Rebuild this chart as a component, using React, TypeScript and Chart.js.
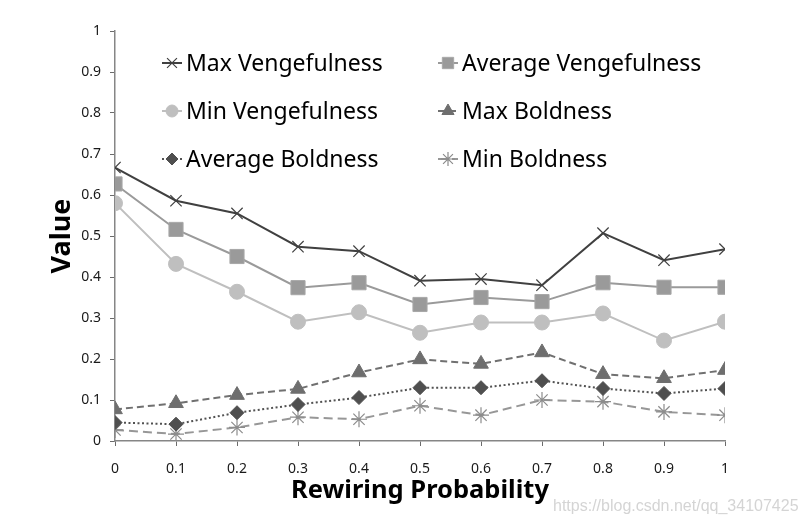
import React, { useEffect, useRef } from "react";
import { Chart, registerables } from "chart.js";
import { drawPoint } from "chart.js/helpers";

Chart.register(...registerables);

const probabilities = [0, 0.1, 0.2, 0.3, 0.4, 0.5, 0.6, 0.7, 0.8, 0.9, 1];
const maxVengefulness = [0.667, 0.586, 0.555, 0.474, 0.463, 0.391, 0.395, 0.38, 0.507, 0.441, 0.468];
const avgVengefulness = [0.627, 0.516, 0.45, 0.374, 0.386, 0.333, 0.35, 0.34, 0.386, 0.375, 0.375];
const minVengefulness = [0.58, 0.432, 0.364, 0.291, 0.314, 0.264, 0.289, 0.289, 0.311, 0.245, 0.291];
const maxBoldness = [0.077, 0.092, 0.112, 0.127, 0.167, 0.199, 0.188, 0.216, 0.163, 0.153, 0.173];
const avgBoldness = [0.045, 0.041, 0.069, 0.089, 0.106, 0.13, 0.13, 0.147, 0.128, 0.116, 0.128];
const minBoldness = [0.027, 0.017, 0.033, 0.058, 0.053, 0.086, 0.063, 0.1, 0.096, 0.071, 0.063];
const seriesLabels = [
  "Max Vengefulness",
  "Average Vengefulness",
  "Min Vengefulness",
  "Max Boldness",
  "Average Boldness",
  "Min Boldness",
];
const xTitle = "Rewiring Probability";
const yTitle = "Value";
const watermark = "https://blog.csdn.net/qq_34107425";

const FONT = "'Noto Sans', 'Open Sans', sans-serif";

const toPoints = (vals: number[]) => vals.map((y, i) => ({ x: probabilities[i], y }));

const fmt = (v: number | string) => {
  const n = Math.round(Number(v) * 10) / 10;
  return String(n);
};

const legendPlugin = {
  id: "gridLegend",
  afterDraw(chart: any) {
    const ctx = chart.ctx as CanvasRenderingContext2D;
    const cols = [172, 448];
    const rows = [63, 111, 159];
    chart.data.datasets.forEach((ds: any, i: number) => {
      const cx = cols[i % 2];
      const cy = rows[Math.floor(i / 2)];
      ctx.save();
      ctx.strokeStyle = ds.borderColor;
      ctx.lineWidth = ds.borderWidth;
      ctx.setLineDash(ds.borderDash || []);
      ctx.beginPath();
      ctx.moveTo(cx - 10, cy);
      ctx.lineTo(cx + 10, cy);
      ctx.stroke();
      ctx.setLineDash([]);
      ctx.fillStyle = ds.pointBackgroundColor;
      ctx.strokeStyle = ds.pointBorderColor;
      ctx.lineWidth = ds.pointBorderWidth;
      drawPoint(ctx, { pointStyle: ds.pointStyle, rotation: 0, radius: ds.legendRadius, borderWidth: ds.pointBorderWidth } as any, cx, cy);
      ctx.fillStyle = "#000";
      ctx.font = `23px ${FONT}`;
      ctx.textBaseline = "middle";
      ctx.textAlign = "left";
      ctx.fillText(ds.label, cx + 14, cy + 1);
      ctx.restore();
    });
  },
};

export default function App() {
  const canvasRef = useRef<HTMLCanvasElement | null>(null);

  useEffect(() => {
    if (!canvasRef.current) return;
    const mk = (
      label: string,
      vals: number[],
      color: string,
      ptColor: string,
      style: string,
      radius: number,
      legendRadius: number,
      dash: number[],
      ptBorder: string,
      ptBorderWidth: number
    ) => ({
      label,
      data: toPoints(vals),
      borderColor: color,
      backgroundColor: ptColor,
      borderWidth: 2,
      borderDash: dash,
      pointStyle: style,
      pointRadius: radius,
      pointHoverRadius: radius,
      pointBackgroundColor: ptColor,
      pointBorderColor: ptBorder,
      pointBorderWidth: ptBorderWidth,
      legendRadius,
      tension: 0,
      fill: false,
    });

    const chart = new Chart(canvasRef.current, {
      type: "line",
      data: {
        datasets: [
          mk(seriesLabels[0], maxVengefulness, "#404040", "#404040", "crossRot", 8, 7, [], "#404040", 1.2),
          mk(seriesLabels[1], avgVengefulness, "#9a9a9a", "#9a9a9a", "rect", 10, 8, [], "#a8a8a8", 1),
          mk(seriesLabels[2], minVengefulness, "#bfbfbf", "#bfbfbf", "circle", 7.5, 6, [], "#bfbfbf", 1),
          mk(seriesLabels[3], maxBoldness, "#707070", "#6e6e6e", "triangle", 8.5, 7, [7, 4], "#6e6e6e", 1),
          mk(seriesLabels[4], avgBoldness, "#525252", "#4f4f4f", "rectRot", 7, 6, [2, 2.5], "#4f4f4f", 1),
          mk(seriesLabels[5], minBoldness, "#979797", "#8c8c8c", "star", 8, 7, [9, 5], "#8c8c8c", 1.2),
        ] as any,
      },
      options: {
        animation: false,
        responsive: true,
        maintainAspectRatio: false,
        layout: { padding: { left: 0, top: 31, right: 81, bottom: 0 } },
        plugins: { legend: { display: false }, tooltip: { enabled: false } },
        scales: {
          x: {
            type: "linear",
            min: 0,
            max: 1,
            ticks: {
              stepSize: 0.1,
              color: "#1a1a1a",
              font: { family: FONT, size: 14 },
              padding: 15,
              maxRotation: 0,
              callback: (v: any) => fmt(v),
            },
            grid: { drawOnChartArea: false, drawTicks: true, tickLength: 5, color: "#6b6b6b", lineWidth: 1 },
            border: { color: "#868686", width: 1.5 },
            title: {
              display: true,
              text: xTitle,
              color: "#000",
              font: { family: FONT, size: 25.5, weight: "bold" },
              padding: { top: 0, bottom: 20 },
            },
            afterFit: (s: any) => {
              s.height = 85;
            },
          },
          y: {
            type: "linear",
            min: 0,
            max: 1,
            ticks: {
              stepSize: 0.1,
              color: "#1a1a1a",
              font: { family: FONT, size: 14 },
              padding: 9,
              callback: (v: any) => fmt(v),
            },
            grid: { drawOnChartArea: false, drawTicks: true, tickLength: 5, color: "#6b6b6b", lineWidth: 1 },
            border: { color: "#868686", width: 1.5 },
            title: {
              display: true,
              text: yTitle,
              color: "#000",
              font: { family: FONT, size: 27, weight: "bold" },
              padding: { top: 46, bottom: 0 },
            },
            afterFit: (s: any) => {
              s.width = 115;
            },
          },
        },
      } as any,
      plugins: [legendPlugin],
    });
    return () => chart.destroy();
  }, []);

  return (
    <div style={{ position: "absolute", left: 0, top: 0, width: 806, height: 526, background: "#fff" }}>
      <canvas ref={canvasRef} />
      <div
        style={{
          position: "absolute",
          left: 553,
          top: 497,
          fontFamily: "'Liberation Sans', Arial, sans-serif",
          fontSize: 16,
          color: "rgba(205,205,205,0.85)",
          whiteSpace: "nowrap",
          pointerEvents: "none",
        }}
      >
        {watermark}
      </div>
    </div>
  );
}
